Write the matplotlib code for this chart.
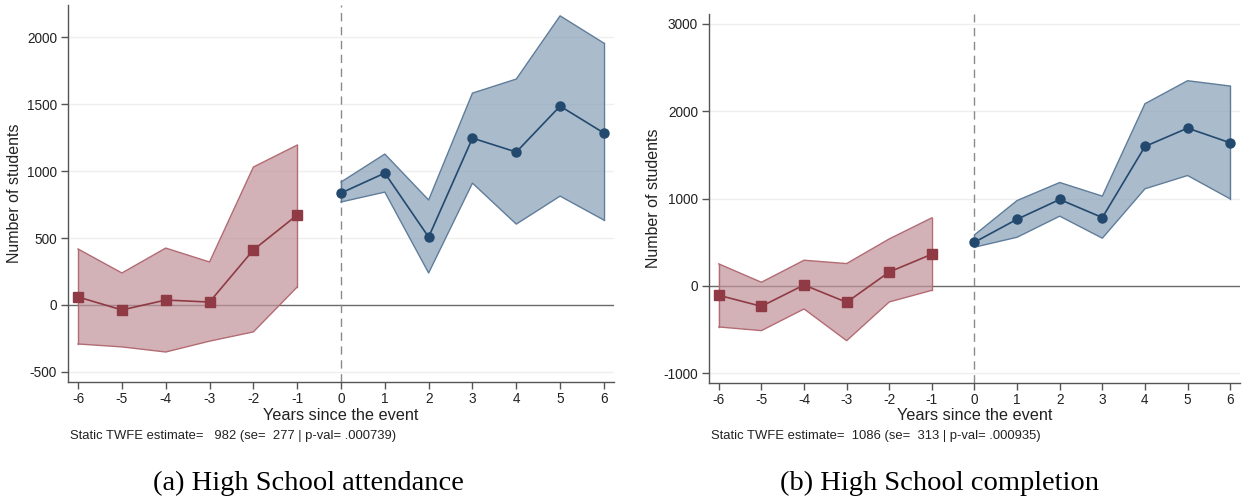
import matplotlib
matplotlib.use("Agg")
import matplotlib.pyplot as plt
import numpy as np

# ---------------- data ----------------
pre_years = [-6, -5, -4, -3, -2, -1]
post_years = [0, 1, 2, 3, 4, 5, 6]

# Panel (a) High School attendance
a_pre_est = [60, -37, 37, 22, 411, 672]
a_pre_hi = [418, 239, 425, 321, 1030, 1194]
a_pre_lo = [-291, -313, -351, -270, -201, 134]
a_post_est = [836, 985, 507, 1246, 1142, 1485, 1284]
a_post_hi = [918, 1127, 784, 1582, 1687, 2159, 1955]
a_post_lo = [769, 843, 239, 910, 604, 813, 634]

# Panel (b) High School completion
b_pre_est = [-107, -233, 11, -187, 160, 363]
b_pre_hi = [252, 42, 294, 256, 538, 779]
b_pre_lo = [-469, -511, -263, -626, -183, -50]
b_post_est = [500, 763, 989, 782, 1595, 1805, 1637]
b_post_hi = [584, 977, 1183, 1027, 2084, 2347, 2286]
b_post_lo = [443, 557, 798, 546, 1111, 1263, 996]

a_yticks = [-500, 0, 500, 1000, 1500, 2000]
b_yticks = [-1000, 0, 1000, 2000, 3000]
xticks = list(range(-6, 7))

a_note = "Static TWFE estimate=   982 (se=  277 | p-val= .000739)"
b_note = "Static TWFE estimate=  1086 (se=  313 | p-val= .000935)"
a_caption = "(a) High School attendance"
b_caption = "(b) High School completion"

# ---------------- style ----------------
W, H = 1254, 501
SANS = ["Liberation Sans", "DejaVu Sans"]
SERIF = ["Liberation Serif", "DejaVu Serif"]
plt.rcParams["font.family"] = SANS

RED_LINE = "#8f3a44"
RED_FILL = "#c1949a"
RED_EDGE = "#b36b74"
BLUE_LINE = "#23496f"
BLUE_FILL = "#8aa1b8"
BLUE_EDGE = "#5f7d9b"
SPINE = "#555555"
TXT = "#222222"

fig = plt.figure(figsize=(W / 100, H / 100), dpi=100)


def px_axes(x0, y0, x1, y1):
    return fig.add_axes([x0 / W, 1 - y1 / H, (x1 - x0) / W, (y1 - y0) / H])


def panel(ax, pre_est, pre_lo, pre_hi, post_est, post_lo, post_hi, ylim, yticks):
    ax.set_xlim(-6.23, 6.23)
    ax.set_ylim(*ylim)
    for t in yticks:
        if t != 0:
            ax.axhline(t, color="#efefef", lw=1.0, zorder=0)
    ax.axhline(0, color="#6a6a6a", lw=1.0, zorder=1)
    ax.axvline(0, color="#8a8a8a", lw=1.0, ls=(0, (6, 4)), zorder=1)

    ax.fill_between(pre_years, pre_lo, pre_hi, facecolor=RED_FILL, alpha=0.72,
                    edgecolor="none", zorder=2)
    ax.plot(pre_years, pre_hi, color=RED_EDGE, lw=1.0, zorder=3)
    ax.plot(pre_years, pre_lo, color=RED_EDGE, lw=1.0, zorder=3)
    ax.plot([pre_years[0]] * 2, [pre_lo[0], pre_hi[0]], color=RED_EDGE, lw=1.0, zorder=3)
    ax.plot([pre_years[-1]] * 2, [pre_lo[-1], pre_hi[-1]], color=RED_EDGE, lw=1.0, zorder=3)
    ax.plot(pre_years, pre_est, color=RED_LINE, lw=1.2, marker="s", ms=7,
            mfc=RED_LINE, mec=RED_LINE, zorder=4, clip_on=False)

    ax.fill_between(post_years, post_lo, post_hi, facecolor=BLUE_FILL, alpha=0.72,
                    edgecolor="none", zorder=2)
    ax.plot(post_years, post_hi, color=BLUE_EDGE, lw=1.0, zorder=3)
    ax.plot(post_years, post_lo, color=BLUE_EDGE, lw=1.0, zorder=3)
    ax.plot([post_years[0]] * 2, [post_lo[0], post_hi[0]], color=BLUE_EDGE, lw=1.0, zorder=3)
    ax.plot([post_years[-1]] * 2, [post_lo[-1], post_hi[-1]], color=BLUE_EDGE, lw=1.0, zorder=3)
    ax.plot(post_years, post_est, color=BLUE_LINE, lw=1.2, marker="o", ms=6.5,
            mfc=BLUE_LINE, mec=BLUE_LINE, zorder=4, clip_on=False)

    for s in ["top", "right"]:
        ax.spines[s].set_visible(False)
    for s in ["left", "bottom"]:
        ax.spines[s].set_color(SPINE)
        ax.spines[s].set_linewidth(1.0)
    ax.set_xticks(xticks)
    ax.set_xticklabels([str(t) for t in xticks])
    ax.set_yticks(yticks)
    ax.set_yticklabels([str(t) for t in yticks])
    ax.tick_params(axis="both", direction="out", length=5, width=1.0, color=SPINE,
                   labelsize=9.8, labelcolor=TXT, pad=3)
    ax.tick_params(axis="x", pad=2)
    ax.set_facecolor("white")


axA = px_axes(68, 5, 614, 382)
panel(axA, a_pre_est, a_pre_lo, a_pre_hi, a_post_est, a_post_lo, a_post_hi,
      (-575, 2240), a_yticks)
axB = px_axes(709, 14, 1240, 383)
panel(axB, b_pre_est, b_pre_lo, b_pre_hi, b_post_est, b_post_lo, b_post_hi,
      (-1110, 3110), b_yticks)

# labels
fig.text(15 / W, 1 - 193 / H, "Number of students", rotation=90, ha="center",
         va="center", fontsize=11.5, color=TXT)
fig.text(654 / W, 1 - 198 / H, "Number of students", rotation=90, ha="center",
         va="center", fontsize=11.5, color=TXT)
fig.text(341 / W, 1 - 416 / H, "Years since the event", ha="center", va="center",
         fontsize=11.7, color=TXT)
fig.text(975 / W, 1 - 416 / H, "Years since the event", ha="center", va="center",
         fontsize=11.7, color=TXT)
fig.text(70 / W, 1 - 436 / H, a_note, ha="left", va="center", fontsize=9.4, color=TXT)
fig.text(711 / W, 1 - 436 / H, b_note, ha="left", va="center", fontsize=9.4, color=TXT)
fig.text(308 / W, 1 - 483 / H, a_caption, ha="center", va="center", fontsize=20.5,
         family=SERIF, color="black")
fig.text(940 / W, 1 - 483 / H, b_caption, ha="center", va="center", fontsize=20.5,
         family=SERIF, color="black")

fig.savefig("out.png", dpi=100, facecolor="white")
